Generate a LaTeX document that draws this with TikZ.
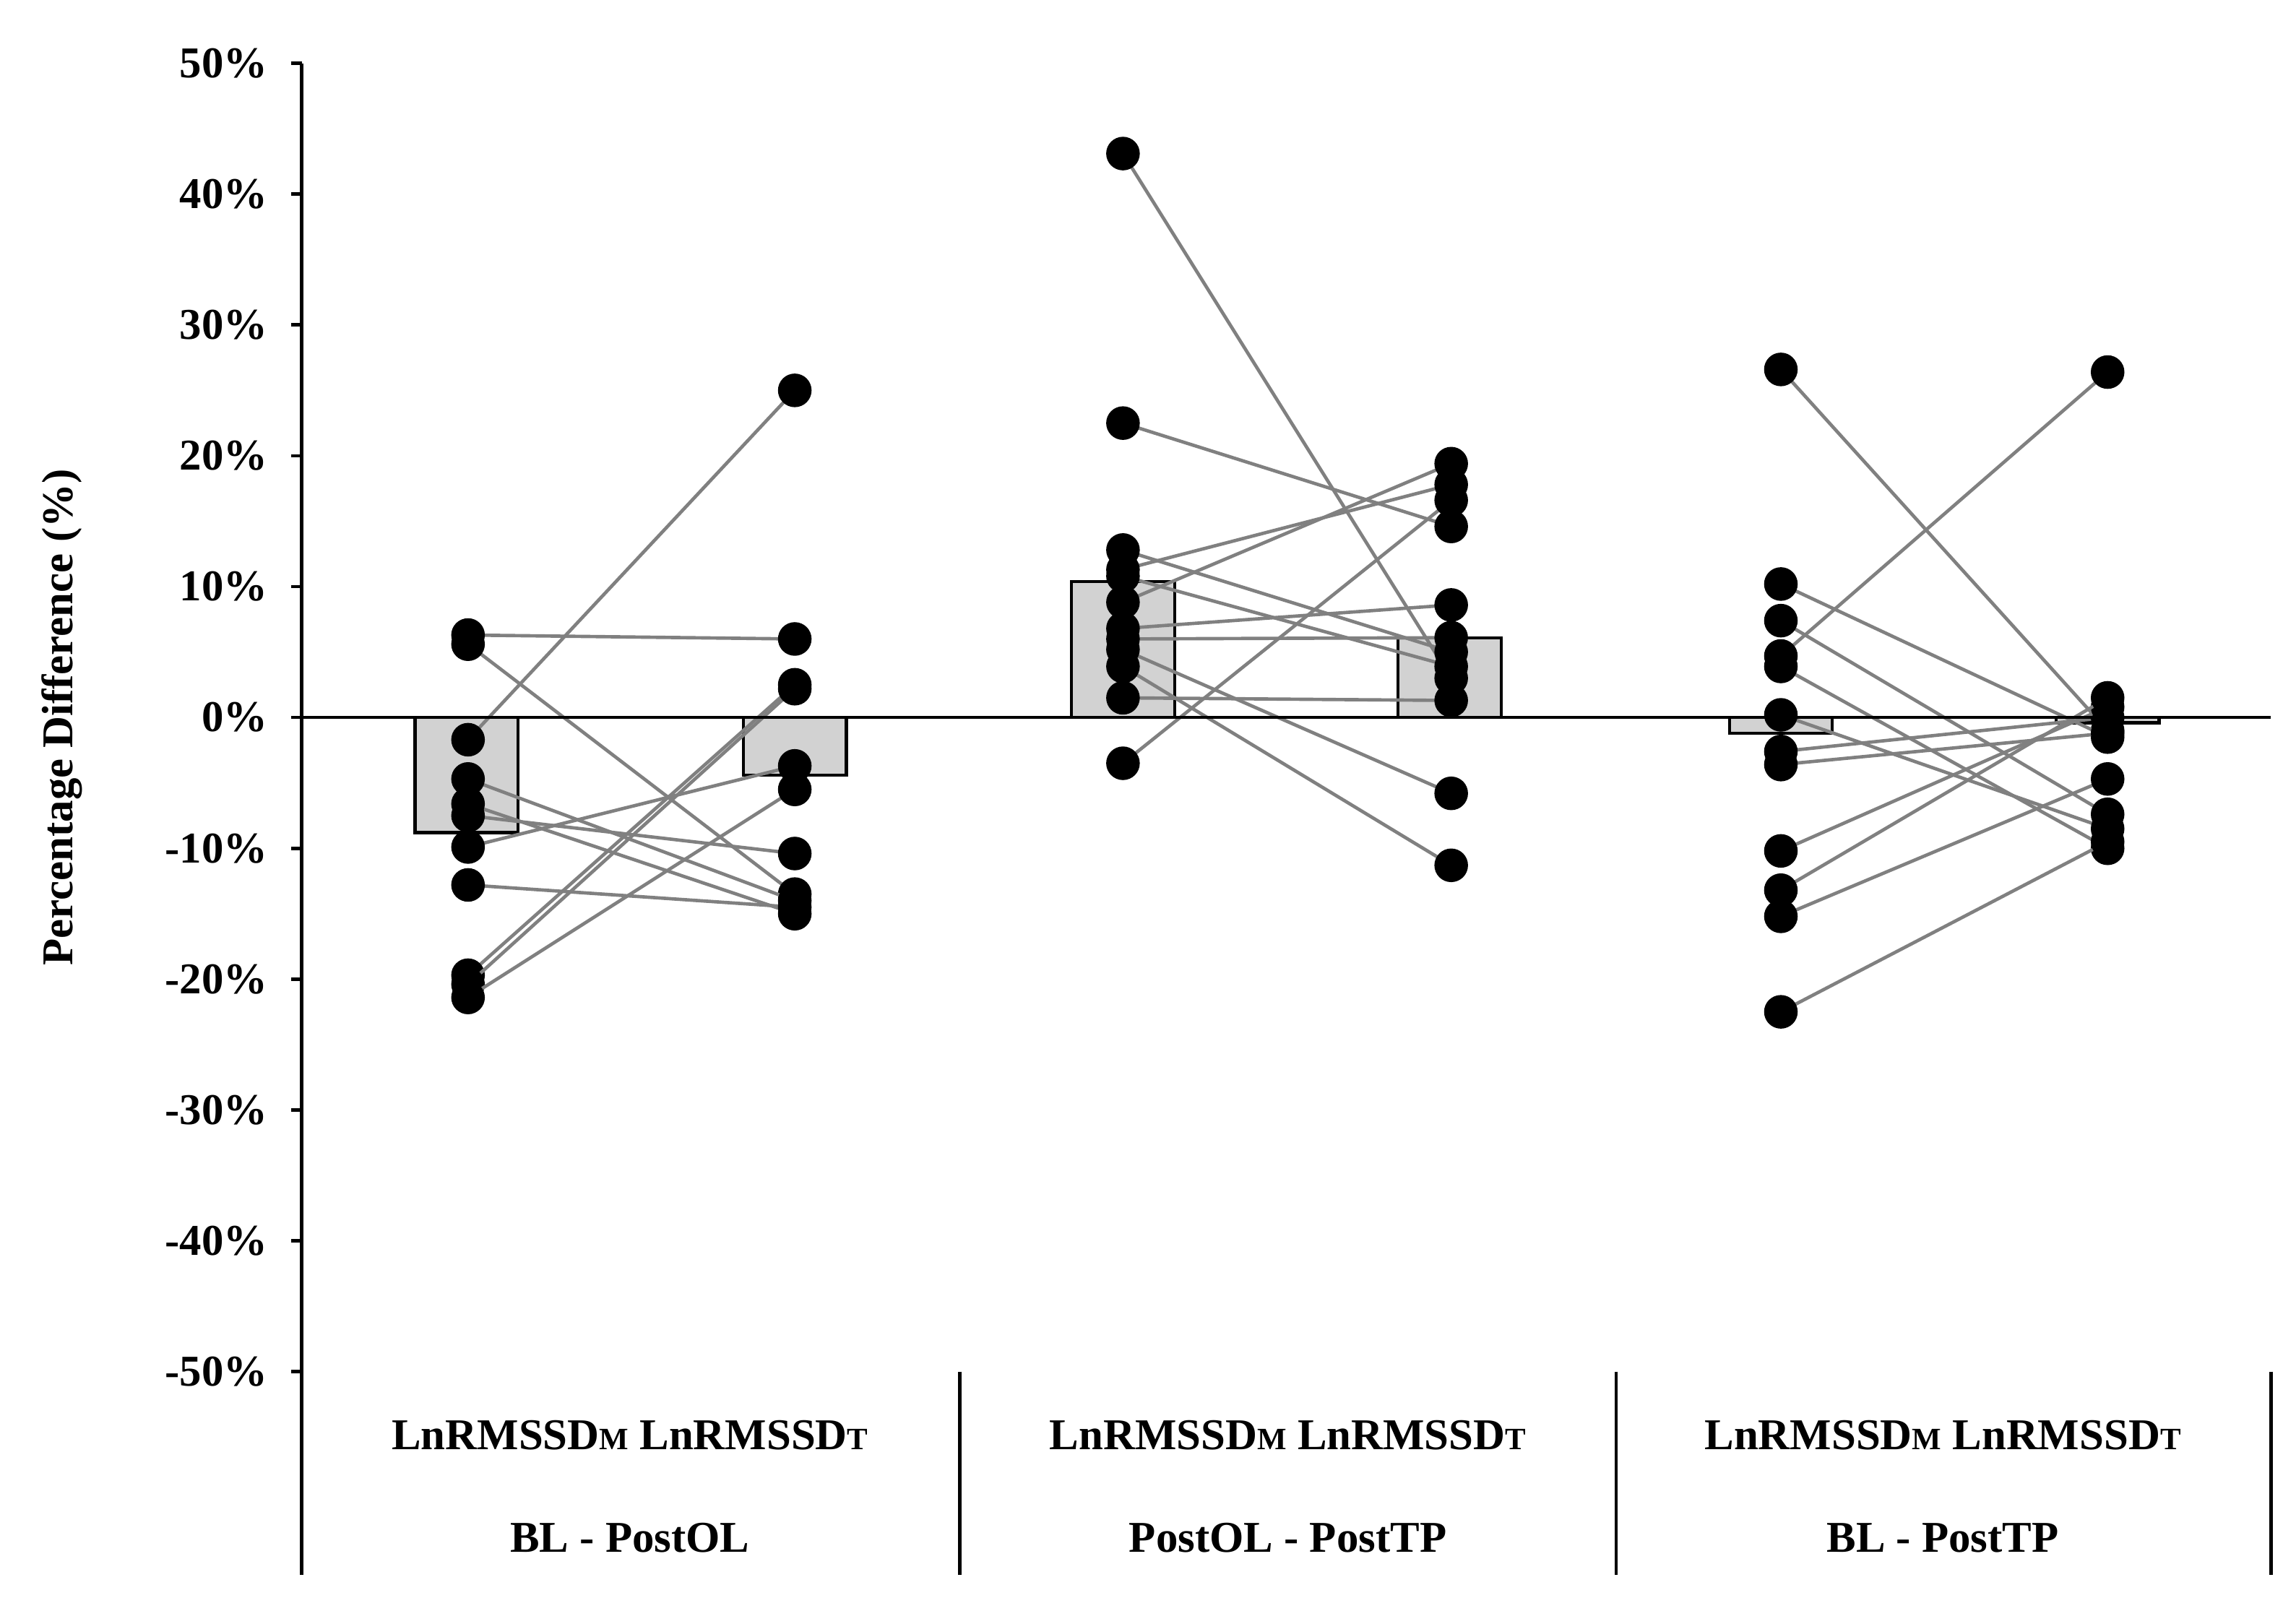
\documentclass[tikz,border=0pt]{standalone}
\usepackage{fontspec}
\setmainfont{Liberation Serif}
\usetikzlibrary{positioning}

\tikzset{
  dot/.style={circle, fill=black, inner sep=0pt, minimum size=13pt},
  pair/.style={gray, line width=1.3pt},
  bar/.style={fill=gray!35, draw=black, line width=1.2pt},
  lbl/.style={font=\bfseries\fontsize{17}{20}\selectfont}
}
% percent -> vertical position
\newcommand{\pv}[1]{487.5-8.89*(#1)}

\begin{document}
\begin{tikzpicture}[x=0.02cm, y=-0.02cm]
    \useasboundingbox (0,0) rectangle (1560,1085.4);

    % Bars
    \draw[bar] (282,487.5) rectangle (352,{\pv{-8.8}});
    \draw[bar] (505,487.5) rectangle (575,{\pv{-4.4}});
    \draw[bar] (728,487.5) rectangle (798,{\pv{10.4}});
    \draw[bar] (950,487.5) rectangle (1020,{\pv{6.1}});
    \draw[bar] (1175,487.5) rectangle (1245,{\pv{-1.2}});
    \draw[bar] (1397,487.5) rectangle (1467,{\pv{-0.4}});

    % Paired lines
    \foreach \xa/\xb/\a/\b in {
        318/540/6.3/6.0, 318/540/5.6/-13.5, 318/540/-1.7/25.0, 318/540/-4.7/-14.0,
        318/540/-6.6/-15.0, 318/540/-7.5/-10.4, 318/540/-9.9/-3.7, 318/540/-12.8/-14.5,
        318/540/-19.7/2.5, 318/540/-20.4/2.2, 318/540/-21.4/-5.5,
        763/986/43.1/3.0, 763/986/22.5/14.6, 763/986/12.8/5.0, 763/986/11.3/17.8,
        763/986/10.8/3.9, 763/986/8.8/19.4, 763/986/6.8/8.6, 763/986/5.2/-5.8,
        763/986/3.9/-11.3, 763/986/1.5/1.3, 763/986/-3.5/16.6, 763/986/6.0/6.1,
        1210/1432/26.6/-1.0, 1210/1432/10.2/-1.5, 1210/1432/7.4/-7.4, 1210/1432/4.7/26.4,
        1210/1432/3.9/-10.0, 1210/1432/0.2/-8.5, 1210/1432/-2.6/-0.0, 1210/1432/-3.6/-1.2,
        1210/1432/-10.2/0.8, 1210/1432/-13.2/1.5, 1210/1432/-15.2/-4.7, 1210/1432/-22.5/-9.5
    } {
        \draw[pair] (\xa,{\pv{\a}}) -- (\xb,{\pv{\b}});
        \node[dot] at (\xa,{\pv{\a}}) {};
        \node[dot] at (\xb,{\pv{\b}}) {};
    }

    % Axes
    \draw[line width=1.3pt] (205,43) -- (205,1070);
    \draw[line width=1.3pt] (205,487.5) -- (1543,487.5);
    \foreach \s in {652,1098,1543}
        \draw[line width=1.3pt] (\s,932) -- (\s,1070);
    \foreach \v in {-50,-40,...,50} {
        \draw[line width=1.3pt] (198,{\pv{\v}}) -- (205,{\pv{\v}});
        \node[lbl, anchor=east] (t\v) at (188,{\pv{\v}}) {\v\%};
    }
    \node[lbl, rotate=90] (ytitle) at (42,487.5) {Percentage Difference (\%)};

    % Categories
    \foreach \c/\xm/\name in {1/428/BL - PostOL, 2/875/PostOL - PostTP, 3/1320/BL - PostTP} {
        \node[lbl] (m\c) at (\xm,975) {LnRMSSD{\fontsize{12}{14}\selectfont M} LnRMSSD{\fontsize{12}{14}\selectfont T}};
        \node[lbl] (g\c) at (\xm,1045) {\name};
    }
\end{tikzpicture}
\end{document}
